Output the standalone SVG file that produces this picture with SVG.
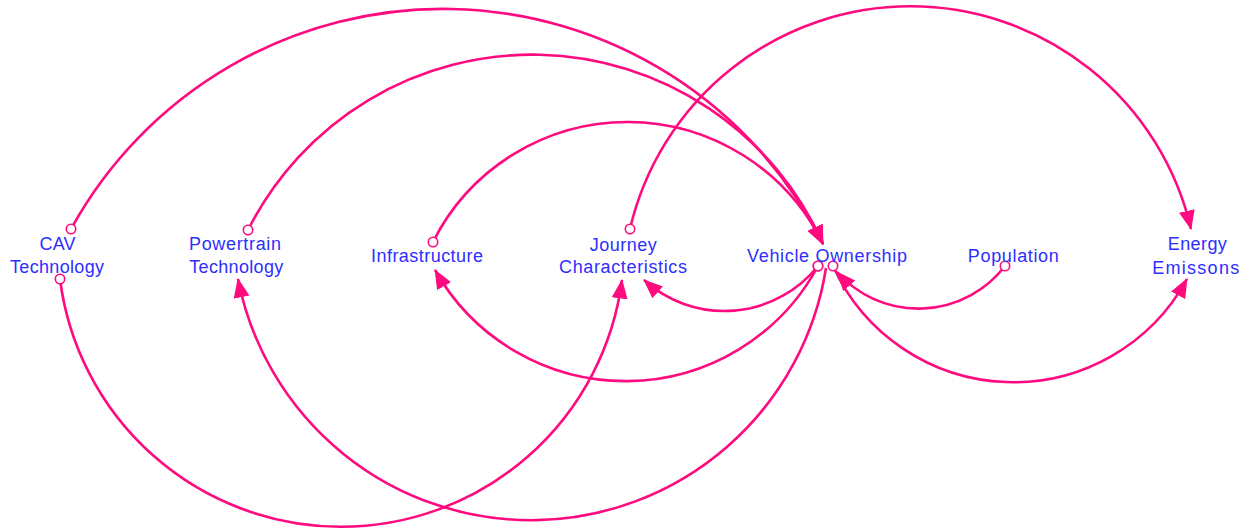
<svg xmlns="http://www.w3.org/2000/svg" width="1249" height="531" viewBox="0 0 1249 531">
<defs>
<marker id="arrow" markerUnits="userSpaceOnUse" markerWidth="22" markerHeight="18" viewBox="0 0 22 18" refX="18.5" refY="9" orient="auto"><path d="M0,1 L19.5,9 L0,17 z" fill="#ff0a7f"/></marker>
<marker id="tail" markerUnits="userSpaceOnUse" markerWidth="14" markerHeight="14" viewBox="0 0 14 14" refX="7" refY="7"><circle cx="7" cy="7" r="4.7" fill="#ffffff" stroke="#ff0a7f" stroke-width="1.6"/></marker>
<style>
.c{fill:none;stroke:#ff0a7f;stroke-width:2.6;marker-end:url(#arrow)}
.t{marker-start:url(#tail)}
text{font-family:"Liberation Sans",Arial,sans-serif;font-size:18px;fill:#2e2eff;text-anchor:middle}
</style>
</defs>
<rect width="1249" height="531" fill="#ffffff"/>
<g id="connectors">
<path class="c t" d="M71,229 A424.5,424.5 0 0 1 823,244"/>
<path class="c t" d="M248,230 A318,318 0 0 1 823,244"/>
<path class="c t" d="M433,242 A217.6,217.6 0 0 1 823,244"/>
<path class="c t" d="M630,229 A288,288 0 0 1 1191,229"/>
<path class="c t" d="M60,279 A283.3,283.3 0 0 0 622,280"/>
<path class="c" d="M826,268 A298.6,298.6 0 0 1 238,279"/>
<path class="c t" d="M818,266 A218.7,218.7 0 0 1 435,270"/>
<path class="c t" d="M818,266 A119.8,119.8 0 0 1 644,280"/>
<path class="c t" d="M1005,266 A109.1,109.1 0 0 1 837,272"/>
<path class="c t" d="M833,266 A197.9,197.9 0 0 0 1187,279"/>
</g>
<g id="cav-technology"><text x="57.5" y="250" textLength="36" lengthAdjust="spacing">CAV</text><text x="57" y="273" textLength="94" lengthAdjust="spacing">Technology</text></g>
<g id="powertrain-technology"><text x="235" y="250.3" textLength="92" lengthAdjust="spacing">Powertrain</text><text x="236.3" y="273" textLength="94" lengthAdjust="spacing">Technology</text></g>
<g id="infrastructure"><text x="427" y="262" textLength="112" lengthAdjust="spacing">Infrastructure</text></g>
<g id="journey-characteristics"><text x="623.3" y="250.8" textLength="67" lengthAdjust="spacing">Journey</text><text x="623" y="273" textLength="128" lengthAdjust="spacing">Characteristics</text></g>
<g id="vehicle-ownership"><text x="827" y="262" textLength="160" lengthAdjust="spacing">Vehicle Ownership</text></g>
<g id="population"><text x="1013.3" y="262.3" textLength="91" lengthAdjust="spacing">Population</text></g>
<g id="energy-emissons"><text x="1197.3" y="250.3" textLength="59" lengthAdjust="spacing">Energy</text><text x="1195.7" y="273.7" textLength="87" lengthAdjust="spacing">Emissons</text></g>
</svg>
